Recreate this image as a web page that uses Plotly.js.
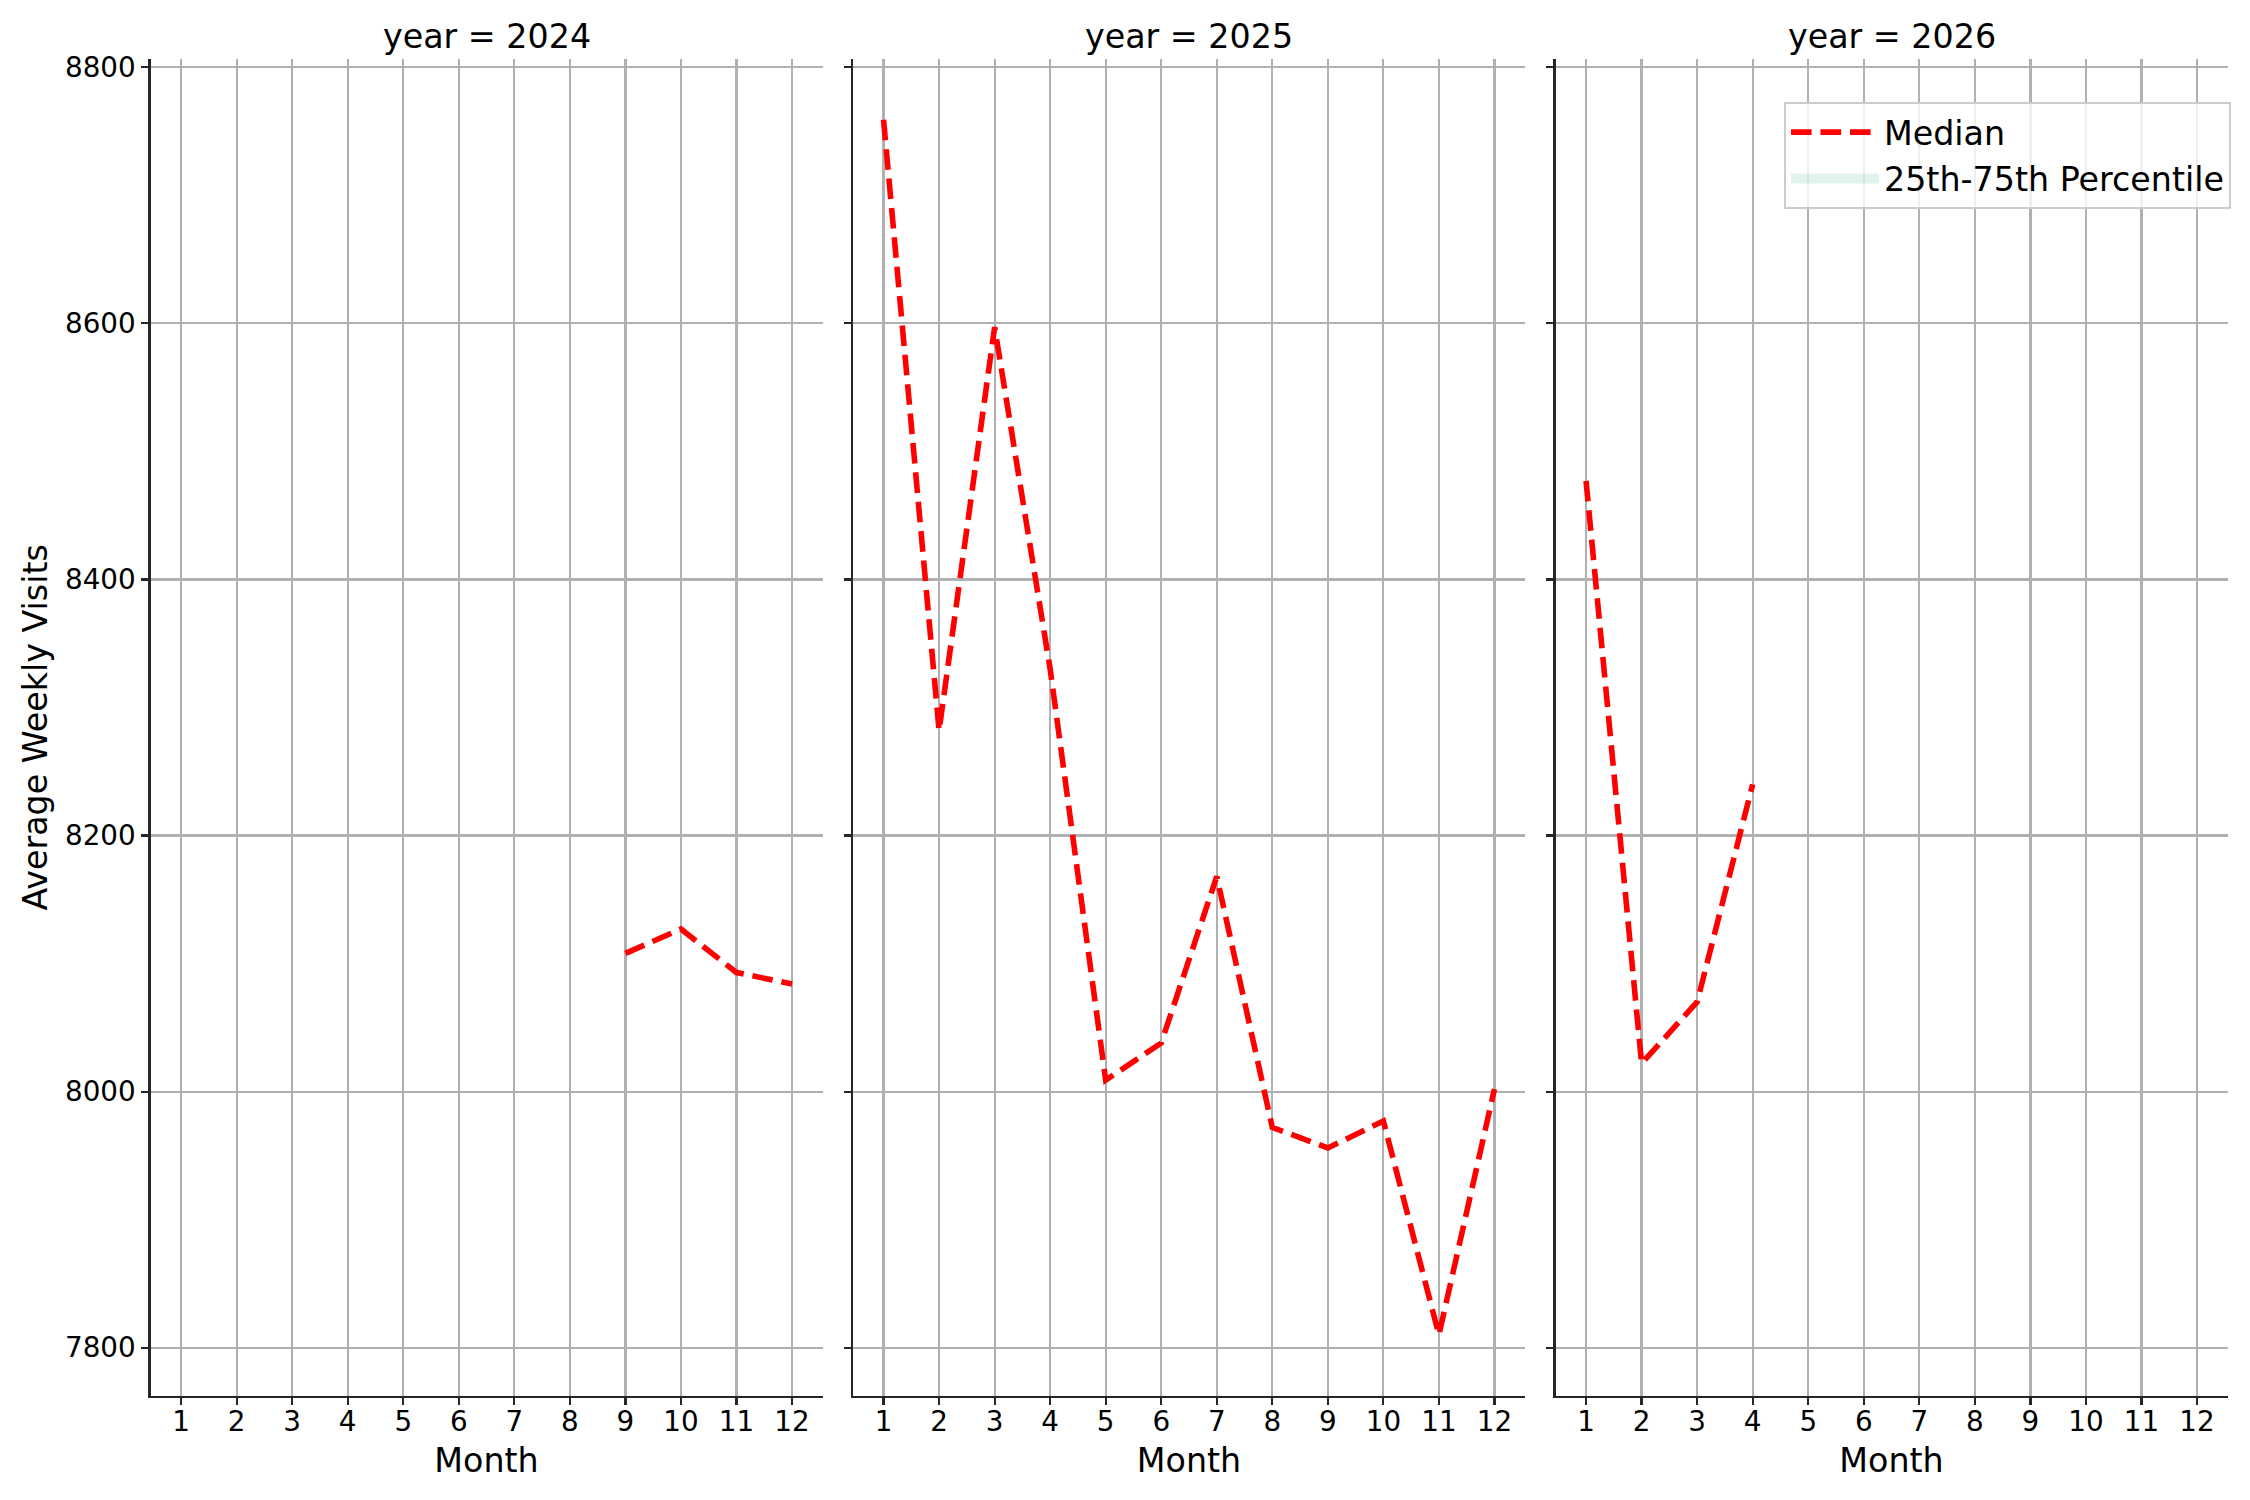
<!DOCTYPE html>
<html>
<head>
<meta charset="utf-8">
<script src="https://cdn.plot.ly/plotly-3.0.1.min.js"></script>
<style>html,body{margin:0;padding:0;background:#fff;}#chart{width:2250px;height:1500px;}</style>
</head>
<body>
<div id="chart"></div>
<script>
// ---- data ----
var years = [2024, 2025, 2026];
var monthTicks = [1, 2, 3, 4, 5, 6, 7, 8, 9, 10, 11, 12];
var yTicks = [7800, 8000, 8200, 8400, 8600, 8800];

var months2024 = [9, 10, 11, 12];
var median2024 = [8108, 8127, 8093, 8084];

var months2025 = [1, 2, 3, 4, 5, 6, 7, 8, 9, 10, 11, 12];
var median2025 = [8759, 8282, 8597, 8330, 8009, 8038, 8168, 7972, 7956, 7977, 7810, 8002];

var months2026 = [1, 2, 3, 4];
var median2026 = [8477, 8022, 8070, 8240];

// 25th-75th percentile band: no band is visible in the reference (values missing)
var bandMonths = [1];
var p25_2025 = [null];
var p75_2025 = [null];

var seriesMonths = [months2024, months2025, months2026];
var seriesMedian = [median2024, median2025, median2026];

// ---- layout geometry (px of 2250x1500 page) ----
var W = 2250, H = 1500;
var panelX = [[150.5, 822.6], [853, 1525], [1555.5, 2227.6]];
var plotTop = 59, plotBottom = 1395.7;
var FONT = 'DejaVu Sans, sans-serif';
var spineColor = '#262626';
var bandColor = 'rgba(102,194,165,0.2)';

var traces = [];
for (var i = 0; i < years.length; i++) {
  var sfx = i === 0 ? '' : String(i + 1);
  traces.push({
    type: 'scatter', mode: 'lines',
    x: seriesMonths[i], y: seriesMedian[i],
    xaxis: 'x' + sfx, yaxis: 'y' + sfx,
    name: 'Median', legendgroup: 'median', showlegend: i === 0,
    line: {color: '#ff0000', width: 5.6, dash: '20.6px,8.9px'},
    hoverinfo: 'x+y'
  });
}
traces.push({
  type: 'scatter', mode: 'lines',
  x: bandMonths.concat(bandMonths.slice().reverse()),
  y: p25_2025.concat(p75_2025.slice().reverse()),
  xaxis: 'x2', yaxis: 'y2',
  name: '25th-75th Percentile', fill: 'none',
  line: {width: 23, color: bandColor},
  showlegend: true
});

var layout = {
  width: W, height: H,
  margin: {l: 0, r: 0, t: 0, b: 0},
  paper_bgcolor: '#ffffff', plot_bgcolor: '#ffffff',
  font: {family: FONT, color: '#000000', size: 27.8},
  showlegend: true,
  legend: {
    x: 2231 / W, xanchor: 'right', y: 1 - 102 / H, yanchor: 'top',
    bgcolor: 'rgba(255,255,255,0.8)', bordercolor: '#cccccc', borderwidth: 2,
    font: {family: FONT, size: 33.3, color: '#000000'},
    itemwidth: 88,
    traceorder: 'normal'
  },
  annotations: []
};

for (var j = 0; j < years.length; j++) {
  var s = j === 0 ? '' : String(j + 1);
  layout['xaxis' + s] = {
    domain: [panelX[j][0] / W, panelX[j][1] / W],
    anchor: 'y' + s,
    range: [0.45, 12.55],
    tickmode: 'array', tickvals: monthTicks, ticktext: monthTicks.map(String),
    showgrid: true, gridcolor: '#b0b0b0', gridwidth: 2.2,
    showline: true, linecolor: spineColor, linewidth: 2.2,
    ticks: 'outside', ticklen: 7, tickwidth: 2.2, tickcolor: spineColor,
    ticklabelstandoff: -7,
    tickfont: {family: FONT, size: 27.8, color: '#000000'},
    zeroline: false, fixedrange: true,
    title: {text: 'Month', font: {family: FONT, size: 33.3, color: '#000000'}, standoff: 12}
  };
  layout['yaxis' + s] = {
    domain: [1 - plotBottom / H, 1 - plotTop / H],
    anchor: 'x' + s,
    range: [7762.5, 8806.5],
    tickmode: 'array', tickvals: yTicks, ticktext: yTicks.map(String),
    showticklabels: j === 0,
    showgrid: true, gridcolor: '#b0b0b0', gridwidth: 2.2,
    showline: true, linecolor: spineColor, linewidth: 2.2,
    ticks: 'outside', ticklen: 7, tickwidth: 2.2, tickcolor: spineColor,
    tickfont: {family: FONT, size: 27.8, color: '#000000'},
    zeroline: false, fixedrange: true
  };
  if (j === 0) {
    layout.yaxis.title = {text: 'Average Weekly Visits', font: {family: FONT, size: 33.3, color: '#000000'}, standoff: 7};
  }
  layout.annotations.push({
    text: 'year = ' + years[j],
    xref: 'paper', yref: 'paper',
    x: (panelX[j][0] + panelX[j][1]) / 2 / W, y: 1 - plotTop / H,
    xanchor: 'center', yanchor: 'bottom', yshift: 1,
    showarrow: false,
    font: {family: FONT, size: 33.3, color: '#000000'}
  });
}

Plotly.newPlot('chart', traces, layout, {displayModeBar: false, staticPlot: true});
</script>
</body>
</html>
